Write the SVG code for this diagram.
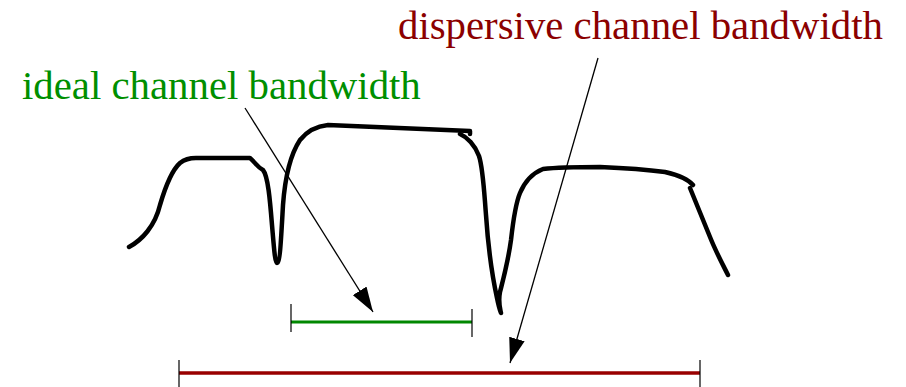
<svg xmlns="http://www.w3.org/2000/svg" width="906" height="387" viewBox="0 0 906 387">
<style>
.lbl{font-family:"Liberation Serif","Times New Roman",serif;font-size:40.8px}
.curve{fill:none;stroke:#000;stroke-width:4.5;stroke-linecap:round;stroke-linejoin:round}
.tick{stroke:#000;stroke-width:1.2}
.conn{stroke:#000;stroke-width:1.3;fill:none}
</style>
<defs>
<marker id="ah" markerUnits="userSpaceOnUse" viewBox="0 0 25 16" markerWidth="25" markerHeight="16" refX="25" refY="8" orient="auto">
<path d="M0,0 L25,8 L0,16 z" fill="#000"/>
</marker>
</defs>
<rect width="906" height="387" fill="#fff"/>
<g id="spectrum">
<path class="curve" d="M129,247 C142,240 155,226 160,205 C165,188 171,171 180,163 C185,159 190,158 196,158 L250,158 C255,162 257,167 263,170 C268,176 270,200 272,225 C274,248 275,263 277,263 C280,263 281,240 283,205 C285,178 290,155 300,140 C308,130 318,126 328,125 L470,131 L470,134"/>
<path class="curve" d="M460,134 C467,137 475,145 479,156 C483,168 484,190 486,215 C488,245 492,275 497,298 C499,308 501,313 501,313 C500,308 498,302 500,292 C503,280 508,262 511,240 C513,222 515,205 520,193 C525,181 533,173 543,169 C560,167 587,167 600,167 C625,168 650,170 665,172 C678,175 688,179 693,185"/>
<path class="curve" d="M690,188 C697,205 703,220 710,237 C716,252 722,263 728,275"/>
</g>
<g id="ideal-bar">
<line x1="291" y1="322" x2="472" y2="322" stroke="#008800" stroke-width="3"/>
<line class="tick" x1="291" y1="304" x2="291" y2="332"/>
<line class="tick" x1="472" y1="309" x2="472" y2="337"/>
</g>
<g id="dispersive-bar">
<line x1="179" y1="373" x2="700" y2="373" stroke="#990000" stroke-width="3.5"/>
<line class="tick" x1="179" y1="360" x2="179" y2="387"/>
<line class="tick" x1="700" y1="360" x2="700" y2="387"/>
</g>
<g id="ideal-label">
<text class="lbl" x="22" y="99" fill="#008f00">ideal channel bandwidth</text>
</g>
<g id="dispersive-label">
<text class="lbl" x="398" y="39" fill="#8b0000">dispersive channel bandwidth</text>
</g>
<g id="connectors">
<line class="conn" x1="245" y1="108" x2="373" y2="312" marker-end="url(#ah)"/>
<line class="conn" x1="598" y1="58" x2="510" y2="363" marker-end="url(#ah)"/>
</g>
</svg>
